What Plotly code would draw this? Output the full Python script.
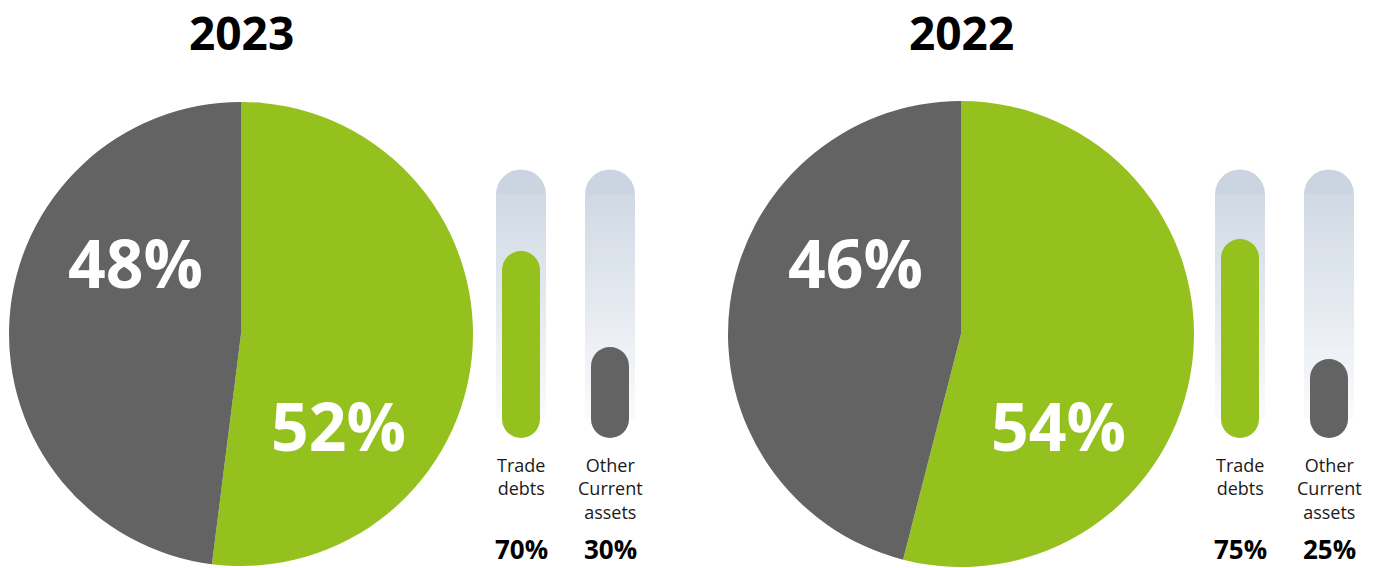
import plotly.graph_objects as go

# ---------------- data ----------------
years = ["2023", "2022"]
pie_labels = ["Green segment", "Grey segment"]
pie_values_2023 = [52, 48]
pie_values_2022 = [54, 46]
bar_categories = ["Trade debts", "Other Current assets"]
bar_label_lines = ["Trade<br>debts", "Other<br>Current<br>assets"]
bar_values_2023 = [70, 30]
bar_values_2022 = [75, 25]

# ---------------- style ----------------
W, H = 1380, 568
OFF = 0
GREEN = "#95c11f"
GREY = "#636363"
FONT = "Open Sans"
PX_PER_UNIT = 2.4            # vertical scale of the bar axes
BASE_PX = 419                # window pixel row of value 0
X_UNIT_PX = 89
FILL_W_PX, TRACK_W_PX = 38, 50
TRACK_TOP = 104              # track extent (style)
N_SEG = 45


def px2paper_x(px):
    return (px - OFF) / W


def px2paper_y(py):
    return 1 - (py - OFF) / H


Y_MAX = (BASE_PX - OFF) / PX_PER_UNIT
Y_MIN = -(H - (BASE_PX - OFF)) / PX_PER_UNIT

fig = go.Figure()

pie_specs = [
    (pie_values_2023, 241, 334, 232),
    (pie_values_2022, 961, 334, 233),
]
bar_specs = [
    (bar_values_2023, 521, "x", "y", "xaxis", "yaxis"),
    (bar_values_2022, 1240, "x2", "y2", "xaxis2", "yaxis2"),
]

# pies
for vals, cx, cy, r in pie_specs:
    fig.add_trace(go.Pie(
        labels=pie_labels, values=vals, sort=False, direction="clockwise",
        rotation=0, marker=dict(colors=[GREEN, GREY], line=dict(width=0)),
        textinfo="none", hoverinfo="label+percent", showlegend=False,
        domain=dict(x=[px2paper_x(cx - r), px2paper_x(cx + r)],
                    y=[px2paper_y(cy + r), px2paper_y(cy - r)]),
    ))


def lerp(c1, c2, t):
    t = min(max(t, 0), 1)
    return "rgb(%d,%d,%d)" % tuple(round(a + (b - a) * t) for a, b in zip(c1, c2))


TOP_C = (203, 213, 225)
BOT_C = (255, 255, 255)
fill_w = FILL_W_PX / X_UNIT_PX
track_w = TRACK_W_PX / X_UNIT_PX
fill_r = (FILL_W_PX / 2) / PX_PER_UNIT
track_r = (TRACK_W_PX / 2) / PX_PER_UNIT
track_bottom = -track_r
span = TRACK_TOP - track_bottom
mid = (TRACK_TOP + track_bottom) / 2

for vals, first_center, xa, ya, xname, yname in bar_specs:
    xs = list(range(len(vals)))
    n = len(xs)
    common = dict(x=xs, xaxis=xa, yaxis=ya, showlegend=False, hoverinfo="skip")
    # track: upper pill (top colour) and lower pill (bottom colour)
    fig.add_trace(go.Bar(base=[mid] * n, y=[TRACK_TOP - mid] * n, width=track_w,
                         marker=dict(color=lerp(TOP_C, BOT_C, 0), cornerradius="50%",
                                     line=dict(width=0)), **common))
    fig.add_trace(go.Bar(base=[track_bottom] * n, y=[mid - track_bottom] * n, width=track_w,
                         marker=dict(color=lerp(TOP_C, BOT_C, 1), cornerradius="50%",
                                     line=dict(width=0)), **common))
    # gradient over the straight part
    lo, hi = track_bottom + track_r, TRACK_TOP - track_r
    dh = (hi - lo) / N_SEG
    for i in range(N_SEG):
        b = lo + i * dh
        t = (TRACK_TOP - (b + dh / 2)) / span
        ext = dh * 1.6 if i < N_SEG - 1 else dh
        fig.add_trace(go.Bar(base=[b] * n, y=[ext] * n, width=track_w,
                             marker=dict(color=lerp(TOP_C, BOT_C, t), line=dict(width=0)),
                             **common))
    # value fills as pills ending at the value
    fig.add_trace(go.Bar(base=[-fill_r] * n, y=[v + fill_r for v in vals], width=fill_w,
                         x=xs, xaxis=xa, yaxis=ya, showlegend=False,
                         marker=dict(color=[GREEN, GREY], cornerradius="50%", line=dict(width=0)),
                         customdata=[[c, v] for c, v in zip(bar_categories, vals)],
                         hovertemplate="%{customdata[0]}: %{customdata[1]}%<extra></extra>"))

annotations = []
# titles
for yr, (vals, cx, cy, r) in zip(years, pie_specs):
    annotations.append(dict(text=f"<b>{yr}</b>", x=px2paper_x(cx), y=px2paper_y(32),
                            xref="paper", yref="paper", showarrow=False,
                            font=dict(family=FONT, size=46, color="#000000"),
                            xanchor="center", yanchor="middle"))
# pie labels
pie_label_pos = [
    [(338, 425), (135, 262)],
    [(1058, 425), (855, 262)],
]
for (vals, cx, cy, r), poss in zip(pie_specs, pie_label_pos):
    for v, (lx, ly) in zip(vals, poss):
        annotations.append(dict(text=f"<b>{v}%</b>", x=px2paper_x(lx), y=px2paper_y(ly),
                                xref="paper", yref="paper", showarrow=False,
                                font=dict(family=FONT, size=66, color="#ffffff"),
                                xanchor="center", yanchor="middle"))
# bar labels and values
for vals, first_center, xa, ya, xname, yname in bar_specs:
    for i, (lab, v) in enumerate(zip(bar_label_lines, vals)):
        annotations.append(dict(text=lab, x=i, y=px2paper_y(451), xref=xa, yref="paper",
                                showarrow=False, align="center",
                                font=dict(family=FONT, size=18, color="#1a1a1a"),
                                xanchor="center", yanchor="top"))
        annotations.append(dict(text=f"<b>{v}%</b>", x=i, y=px2paper_y(549), xref=xa,
                                yref="paper", showarrow=False,
                                font=dict(family=FONT, size=26, color="#000000"),
                                xanchor="center", yanchor="middle"))

layout_axes = {}
for vals, first_center, xa, ya, xname, yname in bar_specs:
    left = first_center - X_UNIT_PX / 2
    right = left + X_UNIT_PX * len(vals)
    layout_axes[xname] = dict(domain=[px2paper_x(left), px2paper_x(right)],
                              range=[-0.5, len(vals) - 0.5], visible=False,
                              fixedrange=True, anchor=ya)
    layout_axes[yname] = dict(domain=[0, 1], range=[Y_MIN, Y_MAX], visible=False,
                              fixedrange=True, anchor=xa)

fig.update_layout(
    width=W, height=H, margin=dict(l=0, r=0, t=0, b=0),
    paper_bgcolor="#ffffff", plot_bgcolor="rgba(0,0,0,0)",
    barmode="overlay", showlegend=False, annotations=annotations,
    font=dict(family=FONT),
    **layout_axes,
)

fig.write_html("out.html", config={"displayModeBar": False},
               post_script="document.body.style.margin='0';document.body.style.overflow='hidden';")
